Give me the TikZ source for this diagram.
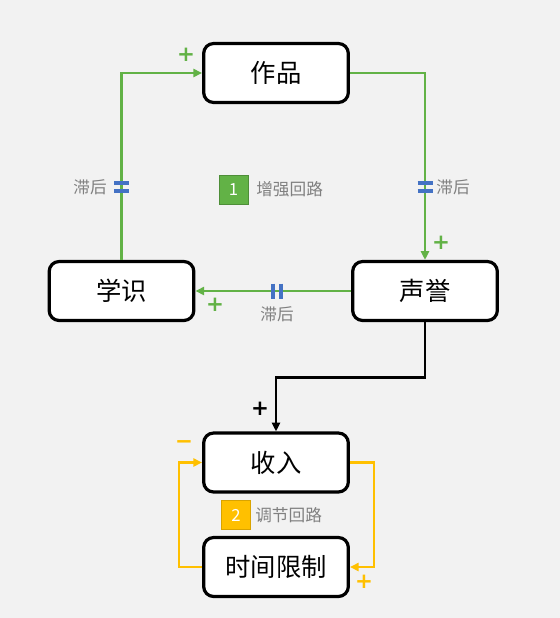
\documentclass[tikz,border=0pt]{standalone}
\usepackage{fontspec}
\setmainfont{Noto Sans CJK SC}
\newfontfamily\signfont{DejaVu Sans}
\usetikzlibrary{arrows.meta,calc}
\definecolor{bg}{RGB}{242,242,242}
\definecolor{lgreen}{RGB}{98,178,70}
\definecolor{lyellow}{RGB}{255,192,0}
\definecolor{lblue}{RGB}{68,114,196}
\definecolor{lgray}{RGB}{128,128,128}
\tikzset{
  varbox/.style={draw=black, line width=2.4pt, fill=white, rounded corners=7.5pt,
    minimum width=108.5pt, minimum height=44.25pt, inner sep=0pt, font=\fontsize{19}{21}\selectfont},
  link/.style={line width=2.1pt, -{Triangle[length=6.5pt,width=6pt]}},
  greenlink/.style={link, draw=lgreen},
  yellowlink/.style={link, draw=lyellow},
  blacklink/.style={link, draw=black},
  delaybar/.style={draw=lblue, line width=2.6pt},
  note/.style={text=lgray, font=\fontsize{12.5}{14}\selectfont, inner sep=0pt},
  sign/.style={font=\signfont\bfseries\fontsize{16}{16}\selectfont, inner sep=0pt},
  badge/.style={minimum size=21.5pt, inner sep=0pt, text=white, font=\fontsize{12.5}{14}\selectfont},
}
\begin{document}
\begin{tikzpicture}[x=0.75pt,y=-0.75pt]
\useasboundingbox (0,0) rectangle (560,618);
\fill[bg] (0,0) rectangle (560,618);

\node[varbox] (zuopin) at (276,73) {作品};
\node[varbox] (xueshi) at (121.5,291) {学识};
\node[varbox] (shengyu) at (425,291) {声誉};
\node[varbox] (shouru) at (276,462.5) {收入};
\node[varbox] (shijian) at (276,567) {时间限制};

% reinforcing loop
\draw[greenlink] (xueshi.north) |- (zuopin.west);
\draw[greenlink] (zuopin.east) -| (shengyu.north);
\draw[greenlink] (shengyu.west) -- (xueshi.east);

% delay marks
\coordinate (d1) at (121.5,187);
\coordinate (d2) at (425,187);
\coordinate (d3) at (277,291);
\draw[delaybar] ($(d1)+(-7.5,-4)$) -- ++(15,0) ($(d1)+(-7.5,4)$) -- ++(15,0);
\draw[delaybar] ($(d2)+(-7.5,-4)$) -- ++(15,0) ($(d2)+(-7.5,4)$) -- ++(15,0);
\draw[delaybar] ($(d3)+(-4,-7.5)$) -- ++(0,15) ($(d3)+(4,-7.5)$) -- ++(0,15);
\node[note] (n1) at (90,187) {滞后};
\node[note] (n2) at (453,187) {滞后};
\node[note] (n3) at (277,314) {滞后};

% black link
\draw[blacklink] (shengyu.south) -- ++(0,55) -| (shouru.north);

% balancing loop
\draw[yellowlink] (shouru.east) -- ++(24,0) |- (shijian.east);
\draw[yellowlink] (shijian.west) -- ++(-23,0) |- (shouru.west);

% signs
\node[sign, text=lgreen] (s1) at (186,55) {+};
\node[sign, text=lgreen] (s2) at (441,243) {+};
\node[sign, text=lgreen] (s3) at (215,305) {+};
\node[sign, text=black] (s4) at (260,409) {+};
\node[sign, text=lyellow] (s5) at (364,582) {+};
\node[sign, text=lyellow] (s6) at (184,445) {−};

% loop badges
\node[badge, fill=lgreen, draw=lgreen!80!black, line width=0.5pt] (b1) at (233.5,189.5) {1};
\node[note, anchor=west] (l1) at (256,189.5) {增强回路};
\node[badge, fill=lyellow, draw=lyellow!85!black, line width=0.5pt] (b2) at (236,515) {2};
\node[note, anchor=west] (l2) at (255,515) {调节回路};
\end{tikzpicture}
\end{document}
